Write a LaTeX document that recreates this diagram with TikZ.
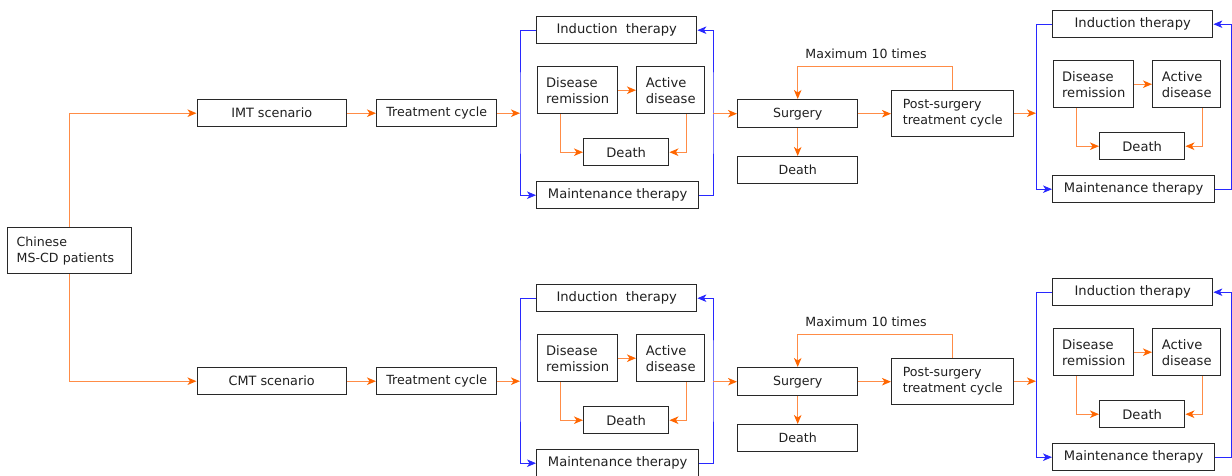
\documentclass[tikz,border=0pt]{standalone}
\usepackage{fontspec}
\setmainfont{DejaVu Sans}
\usetikzlibrary{arrows.meta}
\definecolor{ora}{RGB}{255,140,70}
\definecolor{orh}{RGB}{255,102,0}
\definecolor{blu}{RGB}{40,40,255}
\definecolor{bx}{RGB}{40,40,40}
\tikzset{
  box/.style={draw=bx, line width=1.4pt, inner sep=0pt, anchor=north west, align=left, text=black!88,
    font=\fontsize{12.6}{16}\selectfont},
  tbox/.style={box, font=\fontsize{13.1}{16}\selectfont},
  sbox/.style={box, font=\fontsize{12.8}{15}\selectfont},
  oarr/.style={draw=ora, line width=1.2pt, -{Stealth[length=9pt,width=7.5pt,inset=2.5pt,color=orh]}},
  barr/.style={draw=blu, line width=0.8pt, -{Stealth[length=9pt,width=7.5pt,inset=2.5pt]}},
  lbl/.style={inner sep=0pt, text=black!88, font=\fontsize{12.6}{15}\selectfont},
}
% therapy block: #1 prefix, #2 x0, #3 y0, #4 right x, #5 induction text
\newcommand{\tblock}[5]{%
  \node[tbox, minimum width=160pt, minimum height=27pt] (#1ind) at (#2,#3) {#5};
  \node[tbox, minimum width=80pt, minimum height=47pt] (#1dr) at (#2+1,#3+50) {Disease\\remission};
  \node[tbox, minimum width=68pt, minimum height=47pt] (#1ad) at (#2+100,#3+50) {Active\\disease};
  \node[tbox, minimum width=85pt, minimum height=27pt] (#1dth) at (#2+47,#3+122) {Death};
  \node[tbox, minimum width=162pt, minimum height=27pt] (#1mnt) at (#2,#3+165) {Maintenance therapy};
  \coordinate (#1L) at (#2-16,#3+97);
  \coordinate (#1R) at (#4,#3+97);
  \draw[oarr] (#1dr) -- (#1ad);
  \draw[oarr] ([xshift=-17pt]#1dr.south) |- (#1dth.west);
  \draw[oarr] ([xshift=16pt]#1ad.south) |- (#1dth.east);
  \draw[barr] (#1ind.west) -| (#1L) |- (#1mnt.west);
  \draw[barr] (#1mnt.east) -| (#1R) |- (#1ind.east);
}
% one scenario row: #1 prefix, #2 yshift, #3 scenario text
\newcommand{\scenariorow}[3]{%
  \begin{scope}[yshift=#2]
  \node[sbox, minimum width=149pt, minimum height=27pt] (#1scn) at (196.5,99) {#3};
  \node[box, minimum width=120pt, minimum height=27pt] (#1tc) at (376,99) {Treatment cycle};
  \tblock{#1m}{536}{16}{713}{Induction\ \ therapy}
  \node[box, minimum width=120pt, minimum height=28pt] (#1sur) at (737,99) {Surgery};
  \node[box, minimum width=120pt, minimum height=27pt] (#1sd) at (737,156) {Death};
  \node[box, minimum width=122pt, minimum height=46pt] (#1post) at (891,89.5) {Post-surgery\\treatment cycle};
  \node[lbl] (#1max) at (866,54) {Maximum 10 times};
  \tblock{#1r}{1052}{10}{1231}{Induction therapy}
  \draw[oarr] (#1scn) -- (#1tc);
  \draw[oarr] (#1tc.east) -- (#1tc.east -| #1mL);
  \draw[oarr] (#1sur.west -| #1mR) -- (#1sur.west);
  \draw[oarr] (#1sur) -- (#1sd);
  \draw[oarr] (#1sur) -- (#1sur -| #1post.west);
  \draw[oarr] (#1post.north) -- ++(0,-23) -| (#1sur.north);
  \draw[oarr] (#1post.east) -- (#1post.east -| #1rL);
  \end{scope}
}
\begin{document}
\begin{tikzpicture}[x=1pt,y=-1pt]
\useasboundingbox (0,0) rectangle (1232,475);
\node[box, minimum width=124pt, minimum height=46pt, text width=106pt] (chin) at (7,227) {Chinese\\MS-CD patients};
\scenariorow{a}{0pt}{IMT scenario}
\scenariorow{b}{-268pt}{CMT scenario}
\draw[oarr] (chin.north) |- (ascn.west);
\draw[oarr] (chin.south) |- (bscn.west);
\end{tikzpicture}
\end{document}
